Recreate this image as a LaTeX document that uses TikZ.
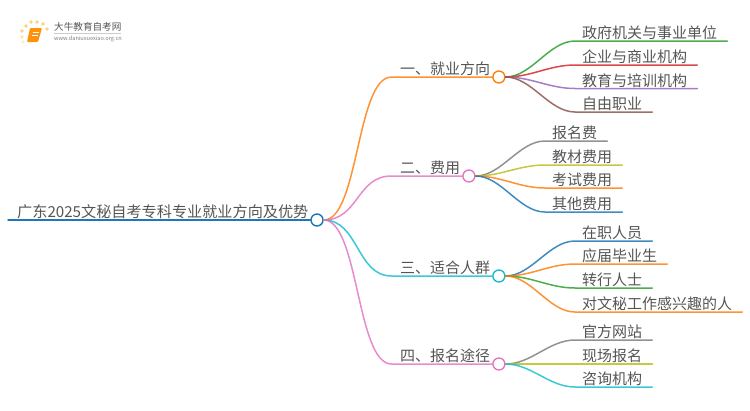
\documentclass[tikz,border=0pt]{standalone}
\usepackage{fontspec}
\setmainfont{Noto Sans CJK SC}
\usetikzlibrary{positioning}
\definecolor{cblue}{HTML}{1F77B4}
\definecolor{corange}{HTML}{FF7F0E}
\definecolor{cgreen}{HTML}{2CA02C}
\definecolor{cred}{HTML}{D62728}
\definecolor{cpurple}{HTML}{9467BD}
\definecolor{cbrown}{HTML}{8C564B}
\definecolor{cpink}{HTML}{E377C2}
\definecolor{cgray}{HTML}{7F7F7F}
\definecolor{colive}{HTML}{BCBD22}
\definecolor{ccyan}{HTML}{17BECF}
\definecolor{ctext}{HTML}{555555}
\definecolor{cdot}{HTML}{FBD27A}
\tikzset{
  label text/.style={text=ctext,inner ysep=0pt,text height=12pt,text depth=2pt,anchor=south west},
  leaf/.style={label text,inner xsep=7pt,execute at end node=\hspace{3pt}},
  branch/.style={label text,inner xsep=8.5pt},
  hub/.style={circle,draw=#1,line width=1.4pt,minimum size=12pt,inner sep=0pt},
  link/.style={line width=1.5pt,opacity=0.85,line cap=round},
  logodot/.style={cdot,radius=1.9pt}
}
\begin{document}
\begin{tikzpicture}[x=1pt,y=-1pt,font=\fontsize{15}{18}\selectfont]
  \useasboundingbox (0,0) rectangle (750,410);
  \def\bend{35}
  \def\lbend{26}
  % logo
  \fill[logodot] (22,31) circle[];
  \fill[logodot] (26,26) circle[];
  \fill[logodot] (31,22) circle[];
  \fill[logodot] (37,22) circle[];
  \fill[logodot] (43,24) circle[];
  \fill[logodot] (47,29) circle[];
  \fill[logodot,opacity=0.6] (22,37) circle[];
  \fill[logodot,opacity=0.4] (23,42) circle[];
  \fill[corange!85!yellow,rounded corners=1pt] (30,28) -- (42,28) -- (38,42) -- (27,42) -- cycle;
  \draw[white,line width=0.7pt] (32.5,32) -- (38.5,32);
  \draw[white,line width=0.7pt] (32,35) -- (38,35);
  \node[text=ctext,anchor=west,inner sep=0pt,font=\fontsize{9.6}{11}\selectfont] (logotitle) at (54,27) {大牛教育自考网};
  \node[text=cgray,anchor=west,inner sep=0pt,font=\fontsize{5.6}{7}\selectfont] (logourl) at (54,38.5) {www.daniuxuexiao.org.cn};
  \draw[black!20,line width=0.5pt] (54,33) -- (121,33);

  \node[hub=cblue] (hubroot) at (317,220) {};
  \node[label text,inner xsep=9pt,font=\fontsize{15.15}{18}\selectfont] (root) at (8,220) {广东2025文秘自考专科专业就业方向及优势};
  \draw[link,cblue,opacity=1] (root.south west) -- (hubroot.west);

  % prvni uroven
  \node[branch] (jiuye) at (391.5,77) {一、就业方向};
  \node[branch] (feiyong) at (391.5,176) {二、费用};
  \node[branch] (renqun) at (391.5,276) {三、适合人群};
  \node[branch] (tujing) at (391.5,364) {四、报名途径};
  \node[hub=corange] (hubjiuye) at (jiuye.south east) {};
  \node[hub=cpink] (hubfeiyong) at (feiyong.south east) {};
  \node[hub=ccyan] (hubrenqun) at (renqun.south east) {};
  \node[hub=cpink] (hubtujing) at (tujing.south east) {};
  \draw[link,corange] (hubroot.east) .. controls +(\bend,0) and +(-\bend,0) .. (jiuye.south west) -- (hubjiuye.west);
  \draw[link,cpink] (hubroot.east) .. controls +(\bend,0) and +(-\bend,0) .. (feiyong.south west) -- (hubfeiyong.west);
  \draw[link,ccyan] (hubroot.east) .. controls +(\bend,0) and +(-\bend,0) .. (renqun.south west) -- (hubrenqun.west);
  \draw[link,cpink] (hubroot.east) .. controls +(\bend,0) and +(-\bend,0) .. (tujing.south west) -- (hubtujing.west);

  % listy
  \node[leaf] (zhengfu) at (575,41) {政府机关与事业单位};
  \node[leaf] (qiye) at (575,65) {企业与商业机构};
  \node[leaf] (jiaoyu) at (575,88.5) {教育与培训机构};
  \node[leaf] (ziyou) at (575,112) {自由职业};
  \draw[link,cgreen] (hubjiuye.east) .. controls +(\lbend,0) and +(-\lbend,0) .. (zhengfu.south west) -- (zhengfu.south east);
  \draw[link,cred] (hubjiuye.east) .. controls +(\lbend,0) and +(-\lbend,0) .. (qiye.south west) -- (qiye.south east);
  \draw[link,cpurple] (hubjiuye.east) .. controls +(\lbend,0) and +(-\lbend,0) .. (jiaoyu.south west) -- (jiaoyu.south east);
  \draw[link,cbrown] (hubjiuye.east) .. controls +(\lbend,0) and +(-\lbend,0) .. (ziyou.south west) -- (ziyou.south east);

  \node[leaf] (baoming) at (545,141) {报名费};
  \node[leaf] (jiaocai) at (545,165) {教材费用};
  \node[leaf] (kaoshi) at (545,188) {考试费用};
  \node[leaf] (qita) at (545,212) {其他费用};
  \draw[link,cgray] (hubfeiyong.east) .. controls +(\lbend,0) and +(-\lbend,0) .. (baoming.south west) -- (baoming.south east);
  \draw[link,colive] (hubfeiyong.east) .. controls +(\lbend,0) and +(-\lbend,0) .. (jiaocai.south west) -- (jiaocai.south east);
  \draw[link,corange] (hubfeiyong.east) .. controls +(\lbend,0) and +(-\lbend,0) .. (kaoshi.south west) -- (kaoshi.south east);
  \draw[link,cblue] (hubfeiyong.east) .. controls +(\lbend,0) and +(-\lbend,0) .. (qita.south west) -- (qita.south east);

  \node[leaf] (zaizhi) at (575,241) {在职人员};
  \node[leaf] (yingjie) at (575,264) {应届毕业生};
  \node[leaf] (zhuanhang) at (575,288) {转行人士};
  \node[leaf] (wenmi) at (575,312) {对文秘工作感兴趣的人};
  \draw[link,cblue] (hubrenqun.east) .. controls +(\lbend,0) and +(-\lbend,0) .. (zaizhi.south west) -- (zaizhi.south east);
  \draw[link,corange] (hubrenqun.east) .. controls +(\lbend,0) and +(-\lbend,0) .. (yingjie.south west) -- (yingjie.south east);
  \draw[link,cgreen] (hubrenqun.east) .. controls +(\lbend,0) and +(-\lbend,0) .. (zhuanhang.south west) -- (zhuanhang.south east);
  \draw[link,corange] (hubrenqun.east) .. controls +(\lbend,0) and +(-\lbend,0) .. (wenmi.south west) -- (wenmi.south east);

  \node[leaf] (guanfang) at (575,340) {官方网站};
  \node[leaf] (xianchang) at (575,364) {现场报名};
  \node[leaf] (zixun) at (575,387) {咨询机构};
  \draw[link,cgray] (hubtujing.east) .. controls +(\lbend,0) and +(-\lbend,0) .. (guanfang.south west) -- (guanfang.south east);
  \draw[link,colive] (hubtujing.east) -- (xianchang.south west) -- (xianchang.south east);
  \draw[link,ccyan] (hubtujing.east) .. controls +(\lbend,0) and +(-\lbend,0) .. (zixun.south west) -- (zixun.south east);
\end{tikzpicture}
\end{document}
